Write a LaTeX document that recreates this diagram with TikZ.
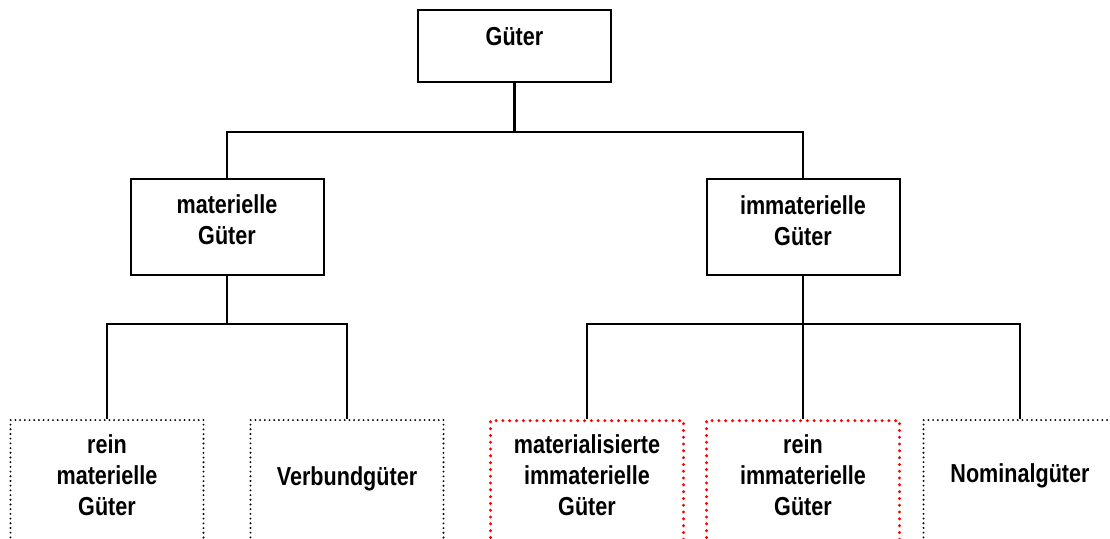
\documentclass[tikz,border=0pt]{standalone}
\usepackage{fontspec}
\setmainfont{Liberation Sans}[FakeStretch=0.83]

\tikzset{
  box/.style={draw, line width=2pt, minimum width=193pt, inner sep=0pt},
  opnbox/.style={draw, line width=2.1pt, line cap=round, dash pattern=on 0pt off 4.7pt,
    minimum width=193pt, minimum height=150pt, inner sep=0pt, anchor=north},
  redbox/.style={opnbox, draw=red, line width=3.3pt, dash pattern=on 0pt off 6.8pt},
  txt/.style={font=\fontsize{26}{31}\selectfont\bfseries, align=center, anchor=base, inner sep=0pt},
  link/.style={line width=2.2pt}
}

\begin{document}
\begin{tikzpicture}[x=1pt, y=-1pt]
\useasboundingbox (0,0) rectangle (1110,538);
\clip (0,0) rectangle (1110,538);
% Draw the boxes of the first two levels
\node[box, minimum height=72pt] (gueter) at (514.5,46) {};
\node[box, minimum height=96pt] (mat) at (227,227) {};
\node[box, minimum height=96pt] (immat) at (803,227) {};
% Open dotted boxes at the bottom, cut off by the page edge
\node[opnbox] (reinmat) at (107,419) {};
\node[opnbox] (verbund) at (347,419) {};
\node[redbox] (materialis) at (587,419) {};
\node[redbox] (reinimmat) at (803,419) {};
\node[opnbox] (nominal) at (1020,419) {};
% Labels, placed on the baseline of their last line
\node[txt] (gueter-txt) at (514.5,45) {Güter};
\node[txt] (mat-txt) at (227,244) {materielle\\Güter};
\node[txt] (immat-txt) at (803,245) {immaterielle\\Güter};
\node[txt] (reinmat-txt) at (107,515) {rein\\materielle\\Güter};
\node[txt] (verbund-txt) at (347,485) {Verbundgüter};
\node[txt] (materialis-txt) at (587,515) {materialisierte\\immaterielle\\Güter};
\node[txt] (reinimmat-txt) at (803,515) {rein\\immaterielle\\Güter};
\node[txt] (nominal-txt) at (1020,482) {Nominalgüter};
% Connect the levels
\draw[link] (gueter.south) -- ++(0,49) -| (mat.north);
\draw[link] (gueter.south) -- ++(0,49) -| (immat.north);
\draw[link] (mat.south) -- ++(0,48) -| (reinmat.north);
\draw[link] (mat.south) -- ++(0,48) -| (verbund.north);
\draw[link] (immat.south) -- ++(0,48) -| (materialis.north);
\draw[link] (immat.south) -- (reinimmat.north);
\draw[link] (immat.south) -- ++(0,48) -| (nominal.north);
\end{tikzpicture}
\end{document}
